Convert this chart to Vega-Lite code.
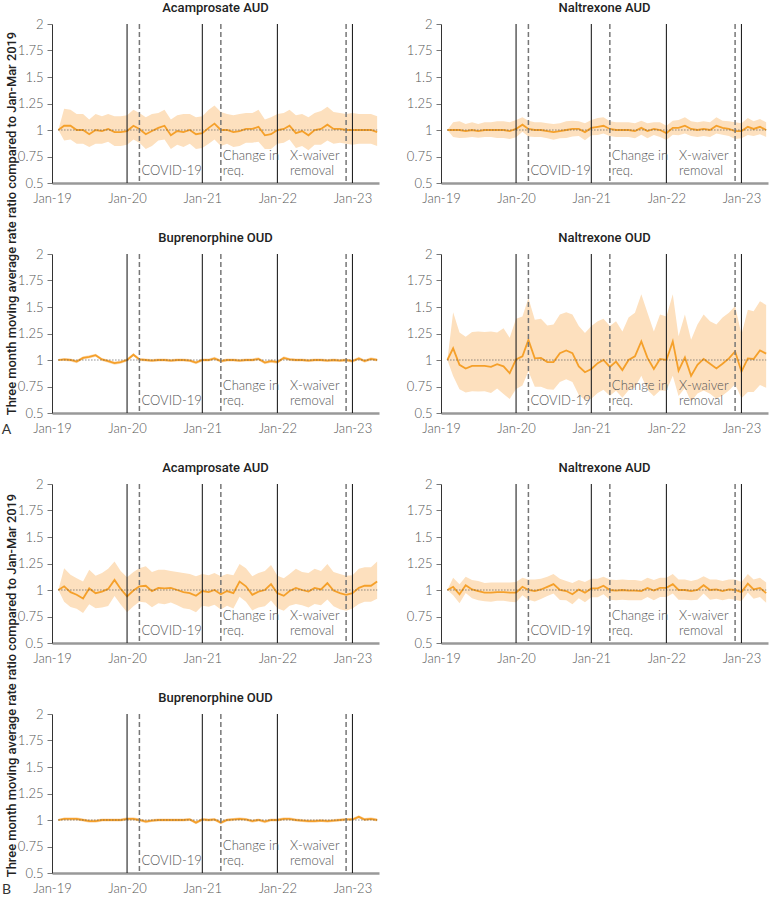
{
"$schema": "https://vega.github.io/schema/vega-lite/v6.json",
"padding": {"left": 1, "top": 2, "right": 0, "bottom": 0},
"columns": 2,
"bounds": "flush",
"spacing": {"row": 71, "column": 62},
"config": {
  "view": {"stroke": null},
  "font": "Lato",
  "title": {"font": "Roboto", "fontSize": 13, "fontWeight": 500, "color": "#222", "offset": 3},
  "axis": {"grid": false, "labelFont": "Lato", "labelFontSize": 13, "labelFontWeight": 300, "labelColor": "#555", "titleFont": "Roboto", "titleColor": "#222"},
  "axisX": {"domainColor": "#999", "domainWidth": 2.5, "ticks": false, "labelPadding": 9, "labelFlush": false},
  "axisY": {"domainColor": "#333", "domainWidth": 1, "tickColor": "#777", "tickSize": 5, "labelPadding": 4, "labelOverlap": false}
},
"datasets": {
  "baseline": [{"start": "2019-02", "end": "2023-05", "ratio": 1}],
  "years": [{"date": "2020-01"}, {"date": "2021-01"}, {"date": "2022-01"}, {"date": "2023-01"}],
  "events": [{"date": "2020-03", "event": "COVID-19"}, {"date": "2021-04", "event": "Change in req."}, {"date": "2022-12", "event": "X-waiver removal"}],
  "labels": [{"date": "2020-03", "line1": "", "line2": "COVID-19"}, {"date": "2021-04", "line1": "Change in", "line2": "req."}, {"date": "2022-02-22", "line1": "X-waiver", "line2": "removal"}],
  "acampA": [
    {"date":"2019-02","rr":1,"lo":1,"hi":1},{"date":"2019-03","rr":1.04,"lo":0.90,"hi":1.20},{"date":"2019-04","rr":1.04,"lo":0.91,"hi":1.19},{"date":"2019-05","rr":1.00,"lo":0.87,"hi":1.15},{"date":"2019-06","rr":1.00,"lo":0.87,"hi":1.15},{"date":"2019-07","rr":0.96,"lo":0.84,"hi":1.10},{"date":"2019-08","rr":1.00,"lo":0.87,"hi":1.15},{"date":"2019-09","rr":0.99,"lo":0.87,"hi":1.13},{"date":"2019-10","rr":1.01,"lo":0.89,"hi":1.15},{"date":"2019-11","rr":0.98,"lo":0.85,"hi":1.13},{"date":"2019-12","rr":0.98,"lo":0.85,"hi":1.13},
    {"date":"2020-01","rr":0.99,"lo":0.86,"hi":1.14},{"date":"2020-02","rr":1.04,"lo":0.91,"hi":1.19},{"date":"2020-03","rr":1.01,"lo":0.88,"hi":1.16},{"date":"2020-04","rr":0.96,"lo":0.82,"hi":1.12},{"date":"2020-05","rr":0.99,"lo":0.85,"hi":1.15},{"date":"2020-06","rr":1.02,"lo":0.90,"hi":1.16},{"date":"2020-07","rr":1.04,"lo":0.91,"hi":1.19},{"date":"2020-08","rr":0.95,"lo":0.82,"hi":1.10},{"date":"2020-09","rr":0.99,"lo":0.86,"hi":1.14},{"date":"2020-10","rr":0.98,"lo":0.84,"hi":1.15},{"date":"2020-11","rr":1.00,"lo":0.87,"hi":1.15},{"date":"2020-12","rr":0.96,"lo":0.82,"hi":1.12},
    {"date":"2021-01","rr":0.97,"lo":0.83,"hi":1.13},{"date":"2021-02","rr":1.02,"lo":0.87,"hi":1.19},{"date":"2021-03","rr":1.06,"lo":0.91,"hi":1.23},{"date":"2021-04","rr":1.00,"lo":0.85,"hi":1.17},{"date":"2021-05","rr":1.00,"lo":0.87,"hi":1.15},{"date":"2021-06","rr":0.98,"lo":0.84,"hi":1.14},{"date":"2021-07","rr":0.99,"lo":0.85,"hi":1.15},{"date":"2021-08","rr":1.01,"lo":0.88,"hi":1.16},{"date":"2021-09","rr":1.01,"lo":0.88,"hi":1.16},{"date":"2021-10","rr":1.03,"lo":0.89,"hi":1.19},{"date":"2021-11","rr":0.95,"lo":0.82,"hi":1.10},{"date":"2021-12","rr":0.96,"lo":0.82,"hi":1.12},
    {"date":"2022-01","rr":1.00,"lo":0.87,"hi":1.15},{"date":"2022-02","rr":1.01,"lo":0.88,"hi":1.16},{"date":"2022-03","rr":1.04,"lo":0.91,"hi":1.19},{"date":"2022-04","rr":0.97,"lo":0.83,"hi":1.14},{"date":"2022-05","rr":0.99,"lo":0.85,"hi":1.15},{"date":"2022-06","rr":0.95,"lo":0.81,"hi":1.12},{"date":"2022-07","rr":1.00,"lo":0.86,"hi":1.16},{"date":"2022-08","rr":1.01,"lo":0.86,"hi":1.18},{"date":"2022-09","rr":1.05,"lo":0.90,"hi":1.22},{"date":"2022-10","rr":1.01,"lo":0.87,"hi":1.17},{"date":"2022-11","rr":1.01,"lo":0.88,"hi":1.16},{"date":"2022-12","rr":1.00,"lo":0.87,"hi":1.15},
    {"date":"2023-01","rr":1.00,"lo":0.86,"hi":1.16},{"date":"2023-02","rr":1.00,"lo":0.87,"hi":1.15},{"date":"2023-03","rr":1.00,"lo":0.87,"hi":1.15},{"date":"2023-04","rr":1.00,"lo":0.87,"hi":1.15},{"date":"2023-05","rr":0.98,"lo":0.85,"hi":1.13}
  ],
  "naltAudA": [
    {"date":"2019-02","rr":1,"lo":1,"hi":1},{"date":"2019-03","rr":1.00,"lo":0.933,"hi":1.072},{"date":"2019-04","rr":1.00,"lo":0.924,"hi":1.082},{"date":"2019-05","rr":0.99,"lo":0.927,"hi":1.057},{"date":"2019-06","rr":1.00,"lo":0.933,"hi":1.072},{"date":"2019-07","rr":0.99,"lo":0.927,"hi":1.057},{"date":"2019-08","rr":1.00,"lo":0.933,"hi":1.072},{"date":"2019-09","rr":1.00,"lo":0.933,"hi":1.072},{"date":"2019-10","rr":1.00,"lo":0.924,"hi":1.082},{"date":"2019-11","rr":1.00,"lo":0.924,"hi":1.082},{"date":"2019-12","rr":0.99,"lo":0.914,"hi":1.072},
    {"date":"2020-01","rr":1.01,"lo":0.932,"hi":1.094},{"date":"2020-02","rr":1.05,"lo":0.984,"hi":1.12},{"date":"2020-03","rr":1.01,"lo":0.938,"hi":1.088},{"date":"2020-04","rr":1.00,"lo":0.933,"hi":1.072},{"date":"2020-05","rr":1.00,"lo":0.933,"hi":1.072},{"date":"2020-06","rr":0.99,"lo":0.922,"hi":1.063},{"date":"2020-07","rr":0.98,"lo":0.909,"hi":1.057},{"date":"2020-08","rr":0.99,"lo":0.922,"hi":1.063},{"date":"2020-09","rr":1.00,"lo":0.924,"hi":1.082},{"date":"2020-10","rr":1.01,"lo":0.938,"hi":1.088},{"date":"2020-11","rr":1.01,"lo":0.943,"hi":1.082},{"date":"2020-12","rr":0.98,"lo":0.903,"hi":1.063},
    {"date":"2021-01","rr":1.02,"lo":0.951,"hi":1.094},{"date":"2021-02","rr":1.03,"lo":0.953,"hi":1.113},{"date":"2021-03","rr":1.04,"lo":0.966,"hi":1.12},{"date":"2021-04","rr":1.01,"lo":0.943,"hi":1.082},{"date":"2021-05","rr":1.00,"lo":0.933,"hi":1.072},{"date":"2021-06","rr":1.00,"lo":0.933,"hi":1.072},{"date":"2021-07","rr":1.00,"lo":0.933,"hi":1.072},{"date":"2021-08","rr":0.99,"lo":0.922,"hi":1.063},{"date":"2021-09","rr":1.02,"lo":0.956,"hi":1.088},{"date":"2021-10","rr":0.99,"lo":0.922,"hi":1.063},{"date":"2021-11","rr":1.01,"lo":0.952,"hi":1.072},{"date":"2021-12","rr":1.00,"lo":0.933,"hi":1.072},
    {"date":"2022-01","rr":0.97,"lo":0.905,"hi":1.04},{"date":"2022-02","rr":1.02,"lo":0.956,"hi":1.088},{"date":"2022-03","rr":1.02,"lo":0.951,"hi":1.094},{"date":"2022-04","rr":1.04,"lo":0.966,"hi":1.12},{"date":"2022-05","rr":1.01,"lo":0.943,"hi":1.082},{"date":"2022-06","rr":1.00,"lo":0.933,"hi":1.072},{"date":"2022-07","rr":1.01,"lo":0.943,"hi":1.082},{"date":"2022-08","rr":1.00,"lo":0.933,"hi":1.072},{"date":"2022-09","rr":1.04,"lo":0.966,"hi":1.12},{"date":"2022-10","rr":1.02,"lo":0.956,"hi":1.088},{"date":"2022-11","rr":1.01,"lo":0.943,"hi":1.082},{"date":"2022-12","rr":0.99,"lo":0.914,"hi":1.072},
    {"date":"2023-01","rr":0.99,"lo":0.922,"hi":1.063},{"date":"2023-02","rr":1.03,"lo":0.953,"hi":1.113},{"date":"2023-03","rr":1.01,"lo":0.943,"hi":1.082},{"date":"2023-04","rr":1.03,"lo":0.961,"hi":1.104},{"date":"2023-05","rr":1.00,"lo":0.933,"hi":1.072}
  ],
  "bupA": [
    {"date":"2019-02","rr":1,"lo":1,"hi":1},{"date":"2019-03","rr":1.005,"lo":0.99,"hi":1.02},{"date":"2019-04","rr":1.0,"lo":0.985,"hi":1.015},{"date":"2019-05","rr":0.985,"lo":0.97,"hi":1.0},{"date":"2019-06","rr":1.02,"lo":1.005,"hi":1.035},{"date":"2019-07","rr":1.03,"lo":1.015,"hi":1.045},{"date":"2019-08","rr":1.045,"lo":1.03,"hi":1.06},{"date":"2019-09","rr":1.005,"lo":0.99,"hi":1.02},{"date":"2019-10","rr":0.99,"lo":0.975,"hi":1.005},{"date":"2019-11","rr":0.97,"lo":0.955,"hi":0.985},{"date":"2019-12","rr":0.98,"lo":0.965,"hi":0.995},
    {"date":"2020-01","rr":1.0,"lo":0.985,"hi":1.015},{"date":"2020-02","rr":1.05,"lo":1.035,"hi":1.065},{"date":"2020-03","rr":1.005,"lo":0.99,"hi":1.02},{"date":"2020-04","rr":1.0,"lo":0.985,"hi":1.015},{"date":"2020-05","rr":0.995,"lo":0.98,"hi":1.01},{"date":"2020-06","rr":1.0,"lo":0.985,"hi":1.015},{"date":"2020-07","rr":1.0,"lo":0.985,"hi":1.015},{"date":"2020-08","rr":0.995,"lo":0.98,"hi":1.01},{"date":"2020-09","rr":1.0,"lo":0.985,"hi":1.015},{"date":"2020-10","rr":1.0,"lo":0.985,"hi":1.015},{"date":"2020-11","rr":0.995,"lo":0.98,"hi":1.01},{"date":"2020-12","rr":0.975,"lo":0.96,"hi":0.99},
    {"date":"2021-01","rr":1.0,"lo":0.985,"hi":1.015},{"date":"2021-02","rr":1.0,"lo":0.985,"hi":1.015},{"date":"2021-03","rr":1.015,"lo":1.0,"hi":1.03},{"date":"2021-04","rr":0.99,"lo":0.975,"hi":1.005},{"date":"2021-05","rr":1.0,"lo":0.985,"hi":1.015},{"date":"2021-06","rr":1.0,"lo":0.985,"hi":1.015},{"date":"2021-07","rr":0.995,"lo":0.98,"hi":1.01},{"date":"2021-08","rr":1.0,"lo":0.985,"hi":1.015},{"date":"2021-09","rr":1.0,"lo":0.985,"hi":1.015},{"date":"2021-10","rr":1.01,"lo":0.995,"hi":1.025},{"date":"2021-11","rr":0.975,"lo":0.96,"hi":0.99},{"date":"2021-12","rr":0.99,"lo":0.975,"hi":1.005},
    {"date":"2022-01","rr":0.98,"lo":0.965,"hi":0.995},{"date":"2022-02","rr":1.02,"lo":1.005,"hi":1.035},{"date":"2022-03","rr":1.005,"lo":0.99,"hi":1.02},{"date":"2022-04","rr":1.0,"lo":0.985,"hi":1.015},{"date":"2022-05","rr":1.0,"lo":0.985,"hi":1.015},{"date":"2022-06","rr":0.995,"lo":0.98,"hi":1.01},{"date":"2022-07","rr":1.0,"lo":0.985,"hi":1.015},{"date":"2022-08","rr":1.0,"lo":0.985,"hi":1.015},{"date":"2022-09","rr":0.995,"lo":0.98,"hi":1.01},{"date":"2022-10","rr":1.0,"lo":0.985,"hi":1.015},{"date":"2022-11","rr":0.995,"lo":0.98,"hi":1.01},{"date":"2022-12","rr":1.0,"lo":0.985,"hi":1.015},
    {"date":"2023-01","rr":0.99,"lo":0.975,"hi":1.005},{"date":"2023-02","rr":1.015,"lo":1.0,"hi":1.03},{"date":"2023-03","rr":0.99,"lo":0.975,"hi":1.005},{"date":"2023-04","rr":1.01,"lo":0.995,"hi":1.025},{"date":"2023-05","rr":1.0,"lo":0.985,"hi":1.015}
  ],
  "naltOudA": [
    {"date":"2019-02","rr":1,"lo":1,"hi":1},{"date":"2019-03","rr":1.11,"lo":0.85,"hi":1.45},{"date":"2019-04","rr":0.955,"lo":0.724,"hi":1.26},{"date":"2019-05","rr":0.92,"lo":0.694,"hi":1.22},{"date":"2019-06","rr":0.945,"lo":0.706,"hi":1.265},{"date":"2019-07","rr":0.945,"lo":0.703,"hi":1.27},{"date":"2019-08","rr":0.945,"lo":0.706,"hi":1.265},{"date":"2019-09","rr":0.935,"lo":0.688,"hi":1.27},{"date":"2019-10","rr":0.96,"lo":0.731,"hi":1.26},{"date":"2019-11","rr":0.94,"lo":0.68,"hi":1.30},{"date":"2019-12","rr":0.875,"lo":0.633,"hi":1.21},
    {"date":"2020-01","rr":1.005,"lo":0.727,"hi":1.39},{"date":"2020-02","rr":1.035,"lo":0.76,"hi":1.41},{"date":"2020-03","rr":1.19,"lo":0.893,"hi":1.585},{"date":"2020-04","rr":1.015,"lo":0.747,"hi":1.38},{"date":"2020-05","rr":1.02,"lo":0.748,"hi":1.39},{"date":"2020-06","rr":0.98,"lo":0.725,"hi":1.325},{"date":"2020-07","rr":0.98,"lo":0.719,"hi":1.335},{"date":"2020-08","rr":1.065,"lo":0.793,"hi":1.43},{"date":"2020-09","rr":1.09,"lo":0.819,"hi":1.45},{"date":"2020-10","rr":1.065,"lo":0.793,"hi":1.43},{"date":"2020-11","rr":0.94,"lo":0.669,"hi":1.32},{"date":"2020-12","rr":0.885,"lo":0.624,"hi":1.255},
    {"date":"2021-01","rr":0.915,"lo":0.634,"hi":1.32},{"date":"2021-02","rr":0.97,"lo":0.689,"hi":1.365},{"date":"2021-03","rr":1.0,"lo":0.719,"hi":1.39},{"date":"2021-04","rr":0.935,"lo":0.662,"hi":1.32},{"date":"2021-05","rr":0.985,"lo":0.711,"hi":1.365},{"date":"2021-06","rr":0.905,"lo":0.645,"hi":1.27},{"date":"2021-07","rr":1.0,"lo":0.714,"hi":1.40},{"date":"2021-08","rr":1.035,"lo":0.741,"hi":1.445},{"date":"2021-09","rr":1.175,"lo":0.852,"hi":1.62},{"date":"2021-10","rr":1.02,"lo":0.72,"hi":1.445},{"date":"2021-11","rr":0.915,"lo":0.659,"hi":1.27},{"date":"2021-12","rr":1.01,"lo":0.713,"hi":1.43},
    {"date":"2022-01","rr":1.0,"lo":0.709,"hi":1.41},{"date":"2022-02","rr":1.175,"lo":0.852,"hi":1.62},{"date":"2022-03","rr":0.90,"lo":0.661,"hi":1.225},{"date":"2022-04","rr":1.025,"lo":0.735,"hi":1.43},{"date":"2022-05","rr":0.85,"lo":0.607,"hi":1.19},{"date":"2022-06","rr":0.955,"lo":0.683,"hi":1.335},{"date":"2022-07","rr":1.01,"lo":0.713,"hi":1.43},{"date":"2022-08","rr":0.965,"lo":0.682,"hi":1.365},{"date":"2022-09","rr":0.92,"lo":0.634,"hi":1.335},{"date":"2022-10","rr":0.965,"lo":0.665,"hi":1.40},{"date":"2022-11","rr":1.015,"lo":0.713,"hi":1.445},{"date":"2022-12","rr":1.08,"lo":0.772,"hi":1.51},
    {"date":"2023-01","rr":0.89,"lo":0.639,"hi":1.24},{"date":"2023-02","rr":1.015,"lo":0.698,"hi":1.475},{"date":"2023-03","rr":1.01,"lo":0.699,"hi":1.46},{"date":"2023-04","rr":1.09,"lo":0.764,"hi":1.555},{"date":"2023-05","rr":1.06,"lo":0.739,"hi":1.52}
  ],
  "acampB": [
    {"date":"2019-02","rr":1,"lo":1,"hi":1},{"date":"2019-03","rr":1.035,"lo":0.889,"hi":1.205},{"date":"2019-04","rr":0.98,"lo":0.839,"hi":1.145},{"date":"2019-05","rr":0.955,"lo":0.822,"hi":1.11},{"date":"2019-06","rr":0.92,"lo":0.784,"hi":1.08},{"date":"2019-07","rr":1.015,"lo":0.866,"hi":1.19},{"date":"2019-08","rr":0.97,"lo":0.829,"hi":1.135},{"date":"2019-09","rr":0.985,"lo":0.836,"hi":1.16},{"date":"2019-10","rr":1.01,"lo":0.85,"hi":1.20},{"date":"2019-11","rr":1.095,"lo":0.944,"hi":1.27},{"date":"2019-12","rr":1.01,"lo":0.864,"hi":1.18},
    {"date":"2020-01","rr":0.94,"lo":0.789,"hi":1.12},{"date":"2020-02","rr":0.995,"lo":0.846,"hi":1.17},{"date":"2020-03","rr":1.035,"lo":0.889,"hi":1.205},{"date":"2020-04","rr":1.04,"lo":0.883,"hi":1.225},{"date":"2020-05","rr":0.99,"lo":0.838,"hi":1.17},{"date":"2020-06","rr":1.02,"lo":0.874,"hi":1.19},{"date":"2020-07","rr":1.015,"lo":0.866,"hi":1.19},{"date":"2020-08","rr":1.02,"lo":0.882,"hi":1.18},{"date":"2020-09","rr":1.0,"lo":0.855,"hi":1.17},{"date":"2020-10","rr":0.98,"lo":0.828,"hi":1.16},{"date":"2020-11","rr":0.97,"lo":0.818,"hi":1.15},{"date":"2020-12","rr":0.945,"lo":0.79,"hi":1.13},
    {"date":"2021-01","rr":0.99,"lo":0.852,"hi":1.15},{"date":"2021-02","rr":0.98,"lo":0.842,"hi":1.14},{"date":"2021-03","rr":1.0,"lo":0.862,"hi":1.16},{"date":"2021-04","rr":0.96,"lo":0.816,"hi":1.13},{"date":"2021-05","rr":0.99,"lo":0.852,"hi":1.15},{"date":"2021-06","rr":0.97,"lo":0.825,"hi":1.14},{"date":"2021-07","rr":1.08,"lo":0.937,"hi":1.245},{"date":"2021-08","rr":1.035,"lo":0.889,"hi":1.205},{"date":"2021-09","rr":0.955,"lo":0.807,"hi":1.13},{"date":"2021-10","rr":0.985,"lo":0.836,"hi":1.16},{"date":"2021-11","rr":1.0,"lo":0.847,"hi":1.18},{"date":"2021-12","rr":1.055,"lo":0.901,"hi":1.235},
    {"date":"2022-01","rr":0.97,"lo":0.829,"hi":1.135},{"date":"2022-02","rr":0.945,"lo":0.805,"hi":1.11},{"date":"2022-03","rr":0.99,"lo":0.852,"hi":1.15},{"date":"2022-04","rr":1.02,"lo":0.867,"hi":1.20},{"date":"2022-05","rr":1.0,"lo":0.855,"hi":1.17},{"date":"2022-06","rr":0.985,"lo":0.836,"hi":1.16},{"date":"2022-07","rr":1.02,"lo":0.867,"hi":1.20},{"date":"2022-08","rr":1.005,"lo":0.856,"hi":1.18},{"date":"2022-09","rr":1.065,"lo":0.911,"hi":1.245},{"date":"2022-10","rr":0.995,"lo":0.846,"hi":1.17},{"date":"2022-11","rr":0.97,"lo":0.818,"hi":1.15},{"date":"2022-12","rr":0.955,"lo":0.804,"hi":1.135},
    {"date":"2023-01","rr":0.97,"lo":0.825,"hi":1.14},{"date":"2023-02","rr":1.02,"lo":0.867,"hi":1.20},{"date":"2023-03","rr":1.04,"lo":0.89,"hi":1.215},{"date":"2023-04","rr":1.04,"lo":0.89,"hi":1.215},{"date":"2023-05","rr":1.08,"lo":0.918,"hi":1.27}
  ],
  "naltAudB": [
    {"date":"2019-02","rr":1,"lo":1,"hi":1},{"date":"2019-03","rr":1.03,"lo":0.951,"hi":1.115},{"date":"2019-04","rr":0.96,"lo":0.874,"hi":1.055},{"date":"2019-05","rr":1.045,"lo":0.971,"hi":1.125},{"date":"2019-06","rr":1.005,"lo":0.922,"hi":1.095},{"date":"2019-07","rr":0.99,"lo":0.903,"hi":1.085},{"date":"2019-08","rr":0.975,"lo":0.893,"hi":1.065},{"date":"2019-09","rr":0.975,"lo":0.888,"hi":1.07},{"date":"2019-10","rr":0.98,"lo":0.898,"hi":1.07},{"date":"2019-11","rr":0.98,"lo":0.898,"hi":1.07},{"date":"2019-12","rr":0.975,"lo":0.888,"hi":1.07},
    {"date":"2020-01","rr":0.975,"lo":0.884,"hi":1.075},{"date":"2020-02","rr":1.03,"lo":0.951,"hi":1.115},{"date":"2020-03","rr":1.0,"lo":0.909,"hi":1.10},{"date":"2020-04","rr":0.99,"lo":0.891,"hi":1.10},{"date":"2020-05","rr":1.005,"lo":0.914,"hi":1.105},{"date":"2020-06","rr":1.03,"lo":0.943,"hi":1.125},{"date":"2020-07","rr":1.055,"lo":0.968,"hi":1.15},{"date":"2020-08","rr":1.0,"lo":0.905,"hi":1.105},{"date":"2020-09","rr":0.99,"lo":0.903,"hi":1.085},{"date":"2020-10","rr":0.96,"lo":0.865,"hi":1.065},{"date":"2020-11","rr":1.005,"lo":0.922,"hi":1.095},{"date":"2020-12","rr":0.975,"lo":0.884,"hi":1.075},
    {"date":"2021-01","rr":1.015,"lo":0.932,"hi":1.105},{"date":"2021-02","rr":1.015,"lo":0.932,"hi":1.105},{"date":"2021-03","rr":1.04,"lo":0.961,"hi":1.125},{"date":"2021-04","rr":1.0,"lo":0.909,"hi":1.10},{"date":"2021-05","rr":0.995,"lo":0.904,"hi":1.095},{"date":"2021-06","rr":1.0,"lo":0.909,"hi":1.10},{"date":"2021-07","rr":0.995,"lo":0.904,"hi":1.095},{"date":"2021-08","rr":0.995,"lo":0.904,"hi":1.095},{"date":"2021-09","rr":0.99,"lo":0.903,"hi":1.085},{"date":"2021-10","rr":1.02,"lo":0.933,"hi":1.115},{"date":"2021-11","rr":0.995,"lo":0.904,"hi":1.095},{"date":"2021-12","rr":1.02,"lo":0.933,"hi":1.115},
    {"date":"2022-01","rr":1.02,"lo":0.933,"hi":1.115},{"date":"2022-02","rr":1.055,"lo":0.968,"hi":1.15},{"date":"2022-03","rr":1.0,"lo":0.909,"hi":1.10},{"date":"2022-04","rr":1.0,"lo":0.909,"hi":1.10},{"date":"2022-05","rr":0.99,"lo":0.903,"hi":1.085},{"date":"2022-06","rr":1.0,"lo":0.909,"hi":1.10},{"date":"2022-07","rr":1.045,"lo":0.966,"hi":1.13},{"date":"2022-08","rr":1.0,"lo":0.909,"hi":1.10},{"date":"2022-09","rr":1.005,"lo":0.918,"hi":1.10},{"date":"2022-10","rr":0.99,"lo":0.903,"hi":1.085},{"date":"2022-11","rr":1.005,"lo":0.918,"hi":1.10},{"date":"2022-12","rr":1.0,"lo":0.909,"hi":1.10},
    {"date":"2023-01","rr":0.98,"lo":0.893,"hi":1.075},{"date":"2023-02","rr":1.06,"lo":0.977,"hi":1.15},{"date":"2023-03","rr":1.005,"lo":0.918,"hi":1.10},{"date":"2023-04","rr":1.02,"lo":0.933,"hi":1.115},{"date":"2023-05","rr":0.97,"lo":0.879,"hi":1.07}
  ],
  "bupB": [
    {"date":"2019-02","rr":1,"lo":1,"hi":1},{"date":"2019-03","rr":1.01,"lo":0.995,"hi":1.025},{"date":"2019-04","rr":1.01,"lo":0.995,"hi":1.025},{"date":"2019-05","rr":1.01,"lo":0.995,"hi":1.025},{"date":"2019-06","rr":1.0,"lo":0.985,"hi":1.015},{"date":"2019-07","rr":0.99,"lo":0.975,"hi":1.005},{"date":"2019-08","rr":0.99,"lo":0.975,"hi":1.005},{"date":"2019-09","rr":1.0,"lo":0.985,"hi":1.015},{"date":"2019-10","rr":1.0,"lo":0.985,"hi":1.015},{"date":"2019-11","rr":1.0,"lo":0.985,"hi":1.015},{"date":"2019-12","rr":1.0,"lo":0.985,"hi":1.015},
    {"date":"2020-01","rr":1.01,"lo":0.995,"hi":1.025},{"date":"2020-02","rr":1.01,"lo":0.995,"hi":1.025},{"date":"2020-03","rr":1.0,"lo":0.985,"hi":1.015},{"date":"2020-04","rr":0.985,"lo":0.97,"hi":1.0},{"date":"2020-05","rr":0.995,"lo":0.98,"hi":1.01},{"date":"2020-06","rr":1.0,"lo":0.985,"hi":1.015},{"date":"2020-07","rr":1.0,"lo":0.985,"hi":1.015},{"date":"2020-08","rr":1.0,"lo":0.985,"hi":1.015},{"date":"2020-09","rr":1.0,"lo":0.985,"hi":1.015},{"date":"2020-10","rr":1.0,"lo":0.985,"hi":1.015},{"date":"2020-11","rr":1.005,"lo":0.99,"hi":1.02},{"date":"2020-12","rr":0.975,"lo":0.96,"hi":0.99},
    {"date":"2021-01","rr":1.005,"lo":0.99,"hi":1.02},{"date":"2021-02","rr":1.0,"lo":0.985,"hi":1.015},{"date":"2021-03","rr":1.005,"lo":0.99,"hi":1.02},{"date":"2021-04","rr":0.975,"lo":0.96,"hi":0.99},{"date":"2021-05","rr":1.0,"lo":0.985,"hi":1.015},{"date":"2021-06","rr":1.005,"lo":0.99,"hi":1.02},{"date":"2021-07","rr":1.01,"lo":0.995,"hi":1.025},{"date":"2021-08","rr":1.005,"lo":0.99,"hi":1.02},{"date":"2021-09","rr":0.99,"lo":0.975,"hi":1.005},{"date":"2021-10","rr":1.0,"lo":0.985,"hi":1.015},{"date":"2021-11","rr":0.985,"lo":0.97,"hi":1.0},{"date":"2021-12","rr":1.0,"lo":0.985,"hi":1.015},
    {"date":"2022-01","rr":1.0,"lo":0.985,"hi":1.015},{"date":"2022-02","rr":1.01,"lo":0.995,"hi":1.025},{"date":"2022-03","rr":1.01,"lo":0.995,"hi":1.025},{"date":"2022-04","rr":1.0,"lo":0.985,"hi":1.015},{"date":"2022-05","rr":0.995,"lo":0.98,"hi":1.01},{"date":"2022-06","rr":0.99,"lo":0.975,"hi":1.005},{"date":"2022-07","rr":0.99,"lo":0.975,"hi":1.005},{"date":"2022-08","rr":0.995,"lo":0.98,"hi":1.01},{"date":"2022-09","rr":0.99,"lo":0.975,"hi":1.005},{"date":"2022-10","rr":0.995,"lo":0.98,"hi":1.01},{"date":"2022-11","rr":1.0,"lo":0.985,"hi":1.015},{"date":"2022-12","rr":1.005,"lo":0.99,"hi":1.02},
    {"date":"2023-01","rr":1.005,"lo":0.99,"hi":1.02},{"date":"2023-02","rr":1.03,"lo":1.015,"hi":1.045},{"date":"2023-03","rr":1.005,"lo":0.99,"hi":1.02},{"date":"2023-04","rr":1.01,"lo":0.995,"hi":1.025},{"date":"2023-05","rr":1.0,"lo":0.985,"hi":1.015}
  ]
},
"concat": [
  {"title": "Acamprosate AUD", "width": 327, "height": 159, "layer": [
    {"data": {"name": "acampA"}, "mark": {"type": "area", "color": "#FDE0BE"}, "encoding": {
      "x": {"field": "date", "type": "temporal", "scale": {"type": "utc", "domain": [1546300800000, 1683676800000]}, "axis": {"title": null, "values": [1546300800000, 1577836800000, 1609459200000, 1640995200000, 1672531200000], "labelExpr": "utcFormat(datum.value, '%b-%y')"}},
      "y": {"field": "lo", "type": "quantitative", "scale": {"domain": [0.5, 2], "nice": false, "zero": false}, "axis": {"title": "Three month moving average rate ratio compared to Jan-Mar 2019", "titleX": -41, "titleY": 199, "titleAngle": 270, "titleAlign": "center", "titleBaseline": "middle", "titleFontSize": 12.9, "titleFontWeight": 500, "values": [0.5, 0.75, 1, 1.25, 1.5, 1.75, 2], "labelExpr": "toString(datum.value)", "labelOverlap": false}},
      "y2": {"field": "hi"}}},
    {"data": {"name": "acampA"}, "mark": {"type": "line", "color": "#F5A02A", "strokeWidth": 1.8}, "encoding": {"x": {"field": "date", "type": "temporal"}, "y": {"field": "rr", "type": "quantitative", "scale": {"domain": [0.5, 2], "nice": false, "zero": false}, "axis": {"title": "Three month moving average rate ratio compared to Jan-Mar 2019", "titleX": -41, "titleY": 199, "titleAngle": 270, "titleAlign": "center", "titleBaseline": "middle", "titleFontSize": 12.9, "titleFontWeight": 500, "values": [0.5, 0.75, 1, 1.25, 1.5, 1.75, 2], "labelExpr": "toString(datum.value)", "labelOverlap": false}}}},
    {"data": {"name": "baseline"}, "mark": {"type": "rule", "color": "#555", "strokeDash": [1, 2]}, "encoding": {"x": {"field": "start", "type": "temporal"}, "x2": {"field": "end"}, "y": {"field": "ratio", "type": "quantitative", "scale": {"domain": [0.5, 2], "nice": false, "zero": false}, "axis": {"title": "Three month moving average rate ratio compared to Jan-Mar 2019", "titleX": -41, "titleY": 199, "titleAngle": 270, "titleAlign": "center", "titleBaseline": "middle", "titleFontSize": 12.9, "titleFontWeight": 500, "values": [0.5, 0.75, 1, 1.25, 1.5, 1.75, 2], "labelExpr": "toString(datum.value)", "labelOverlap": false}}}},
    {"data": {"name": "years"}, "mark": {"type": "rule", "color": "#222", "strokeWidth": 1.1}, "encoding": {"x": {"field": "date", "type": "temporal"}}},
    {"data": {"name": "events"}, "mark": {"type": "rule", "color": "#777", "strokeWidth": 1.5, "strokeDash": [5, 3]}, "encoding": {"x": {"field": "date", "type": "temporal"}}},
    {"data": {"name": "labels"}, "mark": {"type": "text", "align": "left", "baseline": "alphabetic", "dx": 2, "dy": -23, "font": "Lato", "fontWeight": 300, "fontSize": 13, "color": "#555"}, "encoding": {"x": {"field": "date", "type": "temporal"}, "y": {"datum": 0.5, "type": "quantitative", "scale": {"domain": [0.5, 2], "nice": false, "zero": false}, "axis": {"title": "Three month moving average rate ratio compared to Jan-Mar 2019", "titleX": -41, "titleY": 199, "titleAngle": 270, "titleAlign": "center", "titleBaseline": "middle", "titleFontSize": 12.9, "titleFontWeight": 500, "values": [0.5, 0.75, 1, 1.25, 1.5, 1.75, 2], "labelExpr": "toString(datum.value)", "labelOverlap": false}}, "text": {"field": "line1"}}},
    {"data": {"name": "labels"}, "mark": {"type": "text", "align": "left", "baseline": "alphabetic", "dx": 2, "dy": -8, "font": "Lato", "fontWeight": 300, "fontSize": 13, "color": "#555"}, "encoding": {"x": {"field": "date", "type": "temporal"}, "y": {"datum": 0.5, "type": "quantitative", "scale": {"domain": [0.5, 2], "nice": false, "zero": false}, "axis": {"title": "Three month moving average rate ratio compared to Jan-Mar 2019", "titleX": -41, "titleY": 199, "titleAngle": 270, "titleAlign": "center", "titleBaseline": "middle", "titleFontSize": 12.9, "titleFontWeight": 500, "values": [0.5, 0.75, 1, 1.25, 1.5, 1.75, 2], "labelExpr": "toString(datum.value)", "labelOverlap": false}}, "text": {"field": "line2"}}}
  ]},
  {"title": "Naltrexone AUD", "width": 327, "height": 159, "layer": [
    {"data": {"name": "naltAudA"}, "mark": {"type": "area", "color": "#FDE0BE"}, "encoding": {
      "x": {"field": "date", "type": "temporal", "scale": {"type": "utc", "domain": [1546300800000, 1683676800000]}, "axis": {"title": null, "values": [1546300800000, 1577836800000, 1609459200000, 1640995200000, 1672531200000], "labelExpr": "utcFormat(datum.value, '%b-%y')"}},
      "y": {"field": "lo", "type": "quantitative", "scale": {"domain": [0.5, 2], "nice": false, "zero": false}, "axis": {"title": null, "values": [0.5, 0.75, 1, 1.25, 1.5, 1.75, 2], "labelExpr": "toString(datum.value)", "labelOverlap": false}},
      "y2": {"field": "hi"}}},
    {"data": {"name": "naltAudA"}, "mark": {"type": "line", "color": "#F5A02A", "strokeWidth": 1.8}, "encoding": {"x": {"field": "date", "type": "temporal"}, "y": {"field": "rr", "type": "quantitative", "scale": {"domain": [0.5, 2], "nice": false, "zero": false}, "axis": {"title": null, "values": [0.5, 0.75, 1, 1.25, 1.5, 1.75, 2], "labelExpr": "toString(datum.value)", "labelOverlap": false}}}},
    {"data": {"name": "baseline"}, "mark": {"type": "rule", "color": "#555", "strokeDash": [1, 2]}, "encoding": {"x": {"field": "start", "type": "temporal"}, "x2": {"field": "end"}, "y": {"field": "ratio", "type": "quantitative", "scale": {"domain": [0.5, 2], "nice": false, "zero": false}, "axis": {"title": null, "values": [0.5, 0.75, 1, 1.25, 1.5, 1.75, 2], "labelExpr": "toString(datum.value)", "labelOverlap": false}}}},
    {"data": {"name": "years"}, "mark": {"type": "rule", "color": "#222", "strokeWidth": 1.1}, "encoding": {"x": {"field": "date", "type": "temporal"}}},
    {"data": {"name": "events"}, "mark": {"type": "rule", "color": "#777", "strokeWidth": 1.5, "strokeDash": [5, 3]}, "encoding": {"x": {"field": "date", "type": "temporal"}}},
    {"data": {"name": "labels"}, "mark": {"type": "text", "align": "left", "baseline": "alphabetic", "dx": 2, "dy": -23, "font": "Lato", "fontWeight": 300, "fontSize": 13, "color": "#555"}, "encoding": {"x": {"field": "date", "type": "temporal"}, "y": {"datum": 0.5, "type": "quantitative", "scale": {"domain": [0.5, 2], "nice": false, "zero": false}, "axis": {"title": null, "values": [0.5, 0.75, 1, 1.25, 1.5, 1.75, 2], "labelExpr": "toString(datum.value)", "labelOverlap": false}}, "text": {"field": "line1"}}},
    {"data": {"name": "labels"}, "mark": {"type": "text", "align": "left", "baseline": "alphabetic", "dx": 2, "dy": -8, "font": "Lato", "fontWeight": 300, "fontSize": 13, "color": "#555"}, "encoding": {"x": {"field": "date", "type": "temporal"}, "y": {"datum": 0.5, "type": "quantitative", "scale": {"domain": [0.5, 2], "nice": false, "zero": false}, "axis": {"title": null, "values": [0.5, 0.75, 1, 1.25, 1.5, 1.75, 2], "labelExpr": "toString(datum.value)", "labelOverlap": false}}, "text": {"field": "line2"}}}
  ]},
  {"title": "Buprenorphine OUD", "width": 327, "height": 159, "layer": [
    {"data": {"name": "bupA"}, "mark": {"type": "area", "color": "#FDE0BE"}, "encoding": {
      "x": {"field": "date", "type": "temporal", "scale": {"type": "utc", "domain": [1546300800000, 1683676800000]}, "axis": {"title": "A", "titleX": -46, "titleY": 16, "titleAlign": "center", "titleBaseline": "middle", "titleFont": "Lato", "titleFontSize": 14, "titleFontWeight": "normal", "titleColor": "#333", "values": [1546300800000, 1577836800000, 1609459200000, 1640995200000, 1672531200000], "labelExpr": "utcFormat(datum.value, '%b-%y')"}},
      "y": {"field": "lo", "type": "quantitative", "scale": {"domain": [0.5, 2], "nice": false, "zero": false}, "axis": {"title": null, "values": [0.5, 0.75, 1, 1.25, 1.5, 1.75, 2], "labelExpr": "toString(datum.value)", "labelOverlap": false}},
      "y2": {"field": "hi"}}},
    {"data": {"name": "bupA"}, "mark": {"type": "line", "color": "#F5A02A", "strokeWidth": 1.8}, "encoding": {"x": {"field": "date", "type": "temporal"}, "y": {"field": "rr", "type": "quantitative", "scale": {"domain": [0.5, 2], "nice": false, "zero": false}, "axis": {"title": null, "values": [0.5, 0.75, 1, 1.25, 1.5, 1.75, 2], "labelExpr": "toString(datum.value)", "labelOverlap": false}}}},
    {"data": {"name": "baseline"}, "mark": {"type": "rule", "color": "#555", "strokeDash": [1, 2]}, "encoding": {"x": {"field": "start", "type": "temporal"}, "x2": {"field": "end"}, "y": {"field": "ratio", "type": "quantitative", "scale": {"domain": [0.5, 2], "nice": false, "zero": false}, "axis": {"title": null, "values": [0.5, 0.75, 1, 1.25, 1.5, 1.75, 2], "labelExpr": "toString(datum.value)", "labelOverlap": false}}}},
    {"data": {"name": "years"}, "mark": {"type": "rule", "color": "#222", "strokeWidth": 1.1}, "encoding": {"x": {"field": "date", "type": "temporal"}}},
    {"data": {"name": "events"}, "mark": {"type": "rule", "color": "#777", "strokeWidth": 1.5, "strokeDash": [5, 3]}, "encoding": {"x": {"field": "date", "type": "temporal"}}},
    {"data": {"name": "labels"}, "mark": {"type": "text", "align": "left", "baseline": "alphabetic", "dx": 2, "dy": -23, "font": "Lato", "fontWeight": 300, "fontSize": 13, "color": "#555"}, "encoding": {"x": {"field": "date", "type": "temporal"}, "y": {"datum": 0.5, "type": "quantitative", "scale": {"domain": [0.5, 2], "nice": false, "zero": false}, "axis": {"title": null, "values": [0.5, 0.75, 1, 1.25, 1.5, 1.75, 2], "labelExpr": "toString(datum.value)", "labelOverlap": false}}, "text": {"field": "line1"}}},
    {"data": {"name": "labels"}, "mark": {"type": "text", "align": "left", "baseline": "alphabetic", "dx": 2, "dy": -8, "font": "Lato", "fontWeight": 300, "fontSize": 13, "color": "#555"}, "encoding": {"x": {"field": "date", "type": "temporal"}, "y": {"datum": 0.5, "type": "quantitative", "scale": {"domain": [0.5, 2], "nice": false, "zero": false}, "axis": {"title": null, "values": [0.5, 0.75, 1, 1.25, 1.5, 1.75, 2], "labelExpr": "toString(datum.value)", "labelOverlap": false}}, "text": {"field": "line2"}}}
  ]},
  {"title": "Naltrexone OUD", "width": 327, "height": 159, "layer": [
    {"data": {"name": "naltOudA"}, "mark": {"type": "area", "color": "#FDE0BE"}, "encoding": {
      "x": {"field": "date", "type": "temporal", "scale": {"type": "utc", "domain": [1546300800000, 1683676800000]}, "axis": {"title": null, "values": [1546300800000, 1577836800000, 1609459200000, 1640995200000, 1672531200000], "labelExpr": "utcFormat(datum.value, '%b-%y')"}},
      "y": {"field": "lo", "type": "quantitative", "scale": {"domain": [0.5, 2], "nice": false, "zero": false}, "axis": {"title": null, "values": [0.5, 0.75, 1, 1.25, 1.5, 1.75, 2], "labelExpr": "toString(datum.value)", "labelOverlap": false}},
      "y2": {"field": "hi"}}},
    {"data": {"name": "naltOudA"}, "mark": {"type": "line", "color": "#F5A02A", "strokeWidth": 1.8}, "encoding": {"x": {"field": "date", "type": "temporal"}, "y": {"field": "rr", "type": "quantitative", "scale": {"domain": [0.5, 2], "nice": false, "zero": false}, "axis": {"title": null, "values": [0.5, 0.75, 1, 1.25, 1.5, 1.75, 2], "labelExpr": "toString(datum.value)", "labelOverlap": false}}}},
    {"data": {"name": "baseline"}, "mark": {"type": "rule", "color": "#555", "strokeDash": [1, 2]}, "encoding": {"x": {"field": "start", "type": "temporal"}, "x2": {"field": "end"}, "y": {"field": "ratio", "type": "quantitative", "scale": {"domain": [0.5, 2], "nice": false, "zero": false}, "axis": {"title": null, "values": [0.5, 0.75, 1, 1.25, 1.5, 1.75, 2], "labelExpr": "toString(datum.value)", "labelOverlap": false}}}},
    {"data": {"name": "years"}, "mark": {"type": "rule", "color": "#222", "strokeWidth": 1.1}, "encoding": {"x": {"field": "date", "type": "temporal"}}},
    {"data": {"name": "events"}, "mark": {"type": "rule", "color": "#777", "strokeWidth": 1.5, "strokeDash": [5, 3]}, "encoding": {"x": {"field": "date", "type": "temporal"}}},
    {"data": {"name": "labels"}, "mark": {"type": "text", "align": "left", "baseline": "alphabetic", "dx": 2, "dy": -23, "font": "Lato", "fontWeight": 300, "fontSize": 13, "color": "#555"}, "encoding": {"x": {"field": "date", "type": "temporal"}, "y": {"datum": 0.5, "type": "quantitative", "scale": {"domain": [0.5, 2], "nice": false, "zero": false}, "axis": {"title": null, "values": [0.5, 0.75, 1, 1.25, 1.5, 1.75, 2], "labelExpr": "toString(datum.value)", "labelOverlap": false}}, "text": {"field": "line1"}}},
    {"data": {"name": "labels"}, "mark": {"type": "text", "align": "left", "baseline": "alphabetic", "dx": 2, "dy": -8, "font": "Lato", "fontWeight": 300, "fontSize": 13, "color": "#555"}, "encoding": {"x": {"field": "date", "type": "temporal"}, "y": {"datum": 0.5, "type": "quantitative", "scale": {"domain": [0.5, 2], "nice": false, "zero": false}, "axis": {"title": null, "values": [0.5, 0.75, 1, 1.25, 1.5, 1.75, 2], "labelExpr": "toString(datum.value)", "labelOverlap": false}}, "text": {"field": "line2"}}}
  ]},
  {"title": "Acamprosate AUD", "width": 327, "height": 159, "layer": [
    {"data": {"name": "acampB"}, "mark": {"type": "area", "color": "#FDE0BE"}, "encoding": {
      "x": {"field": "date", "type": "temporal", "scale": {"type": "utc", "domain": [1546300800000, 1683676800000]}, "axis": {"title": null, "values": [1546300800000, 1577836800000, 1609459200000, 1640995200000, 1672531200000], "labelExpr": "utcFormat(datum.value, '%b-%y')"}},
      "y": {"field": "lo", "type": "quantitative", "scale": {"domain": [0.5, 2], "nice": false, "zero": false}, "axis": {"title": "Three month moving average rate ratio compared to Jan-Mar 2019", "titleX": -41, "titleY": 201, "titleAngle": 270, "titleAlign": "center", "titleBaseline": "middle", "titleFontSize": 12.9, "titleFontWeight": 500, "values": [0.5, 0.75, 1, 1.25, 1.5, 1.75, 2], "labelExpr": "toString(datum.value)", "labelOverlap": false}},
      "y2": {"field": "hi"}}},
    {"data": {"name": "acampB"}, "mark": {"type": "line", "color": "#F5A02A", "strokeWidth": 1.8}, "encoding": {"x": {"field": "date", "type": "temporal"}, "y": {"field": "rr", "type": "quantitative", "scale": {"domain": [0.5, 2], "nice": false, "zero": false}, "axis": {"title": "Three month moving average rate ratio compared to Jan-Mar 2019", "titleX": -41, "titleY": 201, "titleAngle": 270, "titleAlign": "center", "titleBaseline": "middle", "titleFontSize": 12.9, "titleFontWeight": 500, "values": [0.5, 0.75, 1, 1.25, 1.5, 1.75, 2], "labelExpr": "toString(datum.value)", "labelOverlap": false}}}},
    {"data": {"name": "baseline"}, "mark": {"type": "rule", "color": "#555", "strokeDash": [1, 2]}, "encoding": {"x": {"field": "start", "type": "temporal"}, "x2": {"field": "end"}, "y": {"field": "ratio", "type": "quantitative", "scale": {"domain": [0.5, 2], "nice": false, "zero": false}, "axis": {"title": "Three month moving average rate ratio compared to Jan-Mar 2019", "titleX": -41, "titleY": 201, "titleAngle": 270, "titleAlign": "center", "titleBaseline": "middle", "titleFontSize": 12.9, "titleFontWeight": 500, "values": [0.5, 0.75, 1, 1.25, 1.5, 1.75, 2], "labelExpr": "toString(datum.value)", "labelOverlap": false}}}},
    {"data": {"name": "years"}, "mark": {"type": "rule", "color": "#222", "strokeWidth": 1.1}, "encoding": {"x": {"field": "date", "type": "temporal"}}},
    {"data": {"name": "events"}, "mark": {"type": "rule", "color": "#777", "strokeWidth": 1.5, "strokeDash": [5, 3]}, "encoding": {"x": {"field": "date", "type": "temporal"}}},
    {"data": {"name": "labels"}, "mark": {"type": "text", "align": "left", "baseline": "alphabetic", "dx": 2, "dy": -23, "font": "Lato", "fontWeight": 300, "fontSize": 13, "color": "#555"}, "encoding": {"x": {"field": "date", "type": "temporal"}, "y": {"datum": 0.5, "type": "quantitative", "scale": {"domain": [0.5, 2], "nice": false, "zero": false}, "axis": {"title": "Three month moving average rate ratio compared to Jan-Mar 2019", "titleX": -41, "titleY": 201, "titleAngle": 270, "titleAlign": "center", "titleBaseline": "middle", "titleFontSize": 12.9, "titleFontWeight": 500, "values": [0.5, 0.75, 1, 1.25, 1.5, 1.75, 2], "labelExpr": "toString(datum.value)", "labelOverlap": false}}, "text": {"field": "line1"}}},
    {"data": {"name": "labels"}, "mark": {"type": "text", "align": "left", "baseline": "alphabetic", "dx": 2, "dy": -8, "font": "Lato", "fontWeight": 300, "fontSize": 13, "color": "#555"}, "encoding": {"x": {"field": "date", "type": "temporal"}, "y": {"datum": 0.5, "type": "quantitative", "scale": {"domain": [0.5, 2], "nice": false, "zero": false}, "axis": {"title": "Three month moving average rate ratio compared to Jan-Mar 2019", "titleX": -41, "titleY": 201, "titleAngle": 270, "titleAlign": "center", "titleBaseline": "middle", "titleFontSize": 12.9, "titleFontWeight": 500, "values": [0.5, 0.75, 1, 1.25, 1.5, 1.75, 2], "labelExpr": "toString(datum.value)", "labelOverlap": false}}, "text": {"field": "line2"}}}
  ]},
  {"title": "Naltrexone AUD", "width": 327, "height": 159, "layer": [
    {"data": {"name": "naltAudB"}, "mark": {"type": "area", "color": "#FDE0BE"}, "encoding": {
      "x": {"field": "date", "type": "temporal", "scale": {"type": "utc", "domain": [1546300800000, 1683676800000]}, "axis": {"title": null, "values": [1546300800000, 1577836800000, 1609459200000, 1640995200000, 1672531200000], "labelExpr": "utcFormat(datum.value, '%b-%y')"}},
      "y": {"field": "lo", "type": "quantitative", "scale": {"domain": [0.5, 2], "nice": false, "zero": false}, "axis": {"title": null, "values": [0.5, 0.75, 1, 1.25, 1.5, 1.75, 2], "labelExpr": "toString(datum.value)", "labelOverlap": false}},
      "y2": {"field": "hi"}}},
    {"data": {"name": "naltAudB"}, "mark": {"type": "line", "color": "#F5A02A", "strokeWidth": 1.8}, "encoding": {"x": {"field": "date", "type": "temporal"}, "y": {"field": "rr", "type": "quantitative", "scale": {"domain": [0.5, 2], "nice": false, "zero": false}, "axis": {"title": null, "values": [0.5, 0.75, 1, 1.25, 1.5, 1.75, 2], "labelExpr": "toString(datum.value)", "labelOverlap": false}}}},
    {"data": {"name": "baseline"}, "mark": {"type": "rule", "color": "#555", "strokeDash": [1, 2]}, "encoding": {"x": {"field": "start", "type": "temporal"}, "x2": {"field": "end"}, "y": {"field": "ratio", "type": "quantitative", "scale": {"domain": [0.5, 2], "nice": false, "zero": false}, "axis": {"title": null, "values": [0.5, 0.75, 1, 1.25, 1.5, 1.75, 2], "labelExpr": "toString(datum.value)", "labelOverlap": false}}}},
    {"data": {"name": "years"}, "mark": {"type": "rule", "color": "#222", "strokeWidth": 1.1}, "encoding": {"x": {"field": "date", "type": "temporal"}}},
    {"data": {"name": "events"}, "mark": {"type": "rule", "color": "#777", "strokeWidth": 1.5, "strokeDash": [5, 3]}, "encoding": {"x": {"field": "date", "type": "temporal"}}},
    {"data": {"name": "labels"}, "mark": {"type": "text", "align": "left", "baseline": "alphabetic", "dx": 2, "dy": -23, "font": "Lato", "fontWeight": 300, "fontSize": 13, "color": "#555"}, "encoding": {"x": {"field": "date", "type": "temporal"}, "y": {"datum": 0.5, "type": "quantitative", "scale": {"domain": [0.5, 2], "nice": false, "zero": false}, "axis": {"title": null, "values": [0.5, 0.75, 1, 1.25, 1.5, 1.75, 2], "labelExpr": "toString(datum.value)", "labelOverlap": false}}, "text": {"field": "line1"}}},
    {"data": {"name": "labels"}, "mark": {"type": "text", "align": "left", "baseline": "alphabetic", "dx": 2, "dy": -8, "font": "Lato", "fontWeight": 300, "fontSize": 13, "color": "#555"}, "encoding": {"x": {"field": "date", "type": "temporal"}, "y": {"datum": 0.5, "type": "quantitative", "scale": {"domain": [0.5, 2], "nice": false, "zero": false}, "axis": {"title": null, "values": [0.5, 0.75, 1, 1.25, 1.5, 1.75, 2], "labelExpr": "toString(datum.value)", "labelOverlap": false}}, "text": {"field": "line2"}}}
  ]},
  {"title": "Buprenorphine OUD", "width": 327, "height": 159, "layer": [
    {"data": {"name": "bupB"}, "mark": {"type": "area", "color": "#FDE0BE"}, "encoding": {
      "x": {"field": "date", "type": "temporal", "scale": {"type": "utc", "domain": [1546300800000, 1683676800000]}, "axis": {"title": "B", "titleX": -46, "titleY": 16, "titleAlign": "center", "titleBaseline": "middle", "titleFont": "Lato", "titleFontSize": 14, "titleFontWeight": "normal", "titleColor": "#333", "values": [1546300800000, 1577836800000, 1609459200000, 1640995200000, 1672531200000], "labelExpr": "utcFormat(datum.value, '%b-%y')"}},
      "y": {"field": "lo", "type": "quantitative", "scale": {"domain": [0.5, 2], "nice": false, "zero": false}, "axis": {"title": null, "values": [0.5, 0.75, 1, 1.25, 1.5, 1.75, 2], "labelExpr": "toString(datum.value)", "labelOverlap": false}},
      "y2": {"field": "hi"}}},
    {"data": {"name": "bupB"}, "mark": {"type": "line", "color": "#F5A02A", "strokeWidth": 1.8}, "encoding": {"x": {"field": "date", "type": "temporal"}, "y": {"field": "rr", "type": "quantitative", "scale": {"domain": [0.5, 2], "nice": false, "zero": false}, "axis": {"title": null, "values": [0.5, 0.75, 1, 1.25, 1.5, 1.75, 2], "labelExpr": "toString(datum.value)", "labelOverlap": false}}}},
    {"data": {"name": "baseline"}, "mark": {"type": "rule", "color": "#555", "strokeDash": [1, 2]}, "encoding": {"x": {"field": "start", "type": "temporal"}, "x2": {"field": "end"}, "y": {"field": "ratio", "type": "quantitative", "scale": {"domain": [0.5, 2], "nice": false, "zero": false}, "axis": {"title": null, "values": [0.5, 0.75, 1, 1.25, 1.5, 1.75, 2], "labelExpr": "toString(datum.value)", "labelOverlap": false}}}},
    {"data": {"name": "years"}, "mark": {"type": "rule", "color": "#222", "strokeWidth": 1.1}, "encoding": {"x": {"field": "date", "type": "temporal"}}},
    {"data": {"name": "events"}, "mark": {"type": "rule", "color": "#777", "strokeWidth": 1.5, "strokeDash": [5, 3]}, "encoding": {"x": {"field": "date", "type": "temporal"}}},
    {"data": {"name": "labels"}, "mark": {"type": "text", "align": "left", "baseline": "alphabetic", "dx": 2, "dy": -23, "font": "Lato", "fontWeight": 300, "fontSize": 13, "color": "#555"}, "encoding": {"x": {"field": "date", "type": "temporal"}, "y": {"datum": 0.5, "type": "quantitative", "scale": {"domain": [0.5, 2], "nice": false, "zero": false}, "axis": {"title": null, "values": [0.5, 0.75, 1, 1.25, 1.5, 1.75, 2], "labelExpr": "toString(datum.value)", "labelOverlap": false}}, "text": {"field": "line1"}}},
    {"data": {"name": "labels"}, "mark": {"type": "text", "align": "left", "baseline": "alphabetic", "dx": 2, "dy": -8, "font": "Lato", "fontWeight": 300, "fontSize": 13, "color": "#555"}, "encoding": {"x": {"field": "date", "type": "temporal"}, "y": {"datum": 0.5, "type": "quantitative", "scale": {"domain": [0.5, 2], "nice": false, "zero": false}, "axis": {"title": null, "values": [0.5, 0.75, 1, 1.25, 1.5, 1.75, 2], "labelExpr": "toString(datum.value)", "labelOverlap": false}}, "text": {"field": "line2"}}}
  ]}
]
}
